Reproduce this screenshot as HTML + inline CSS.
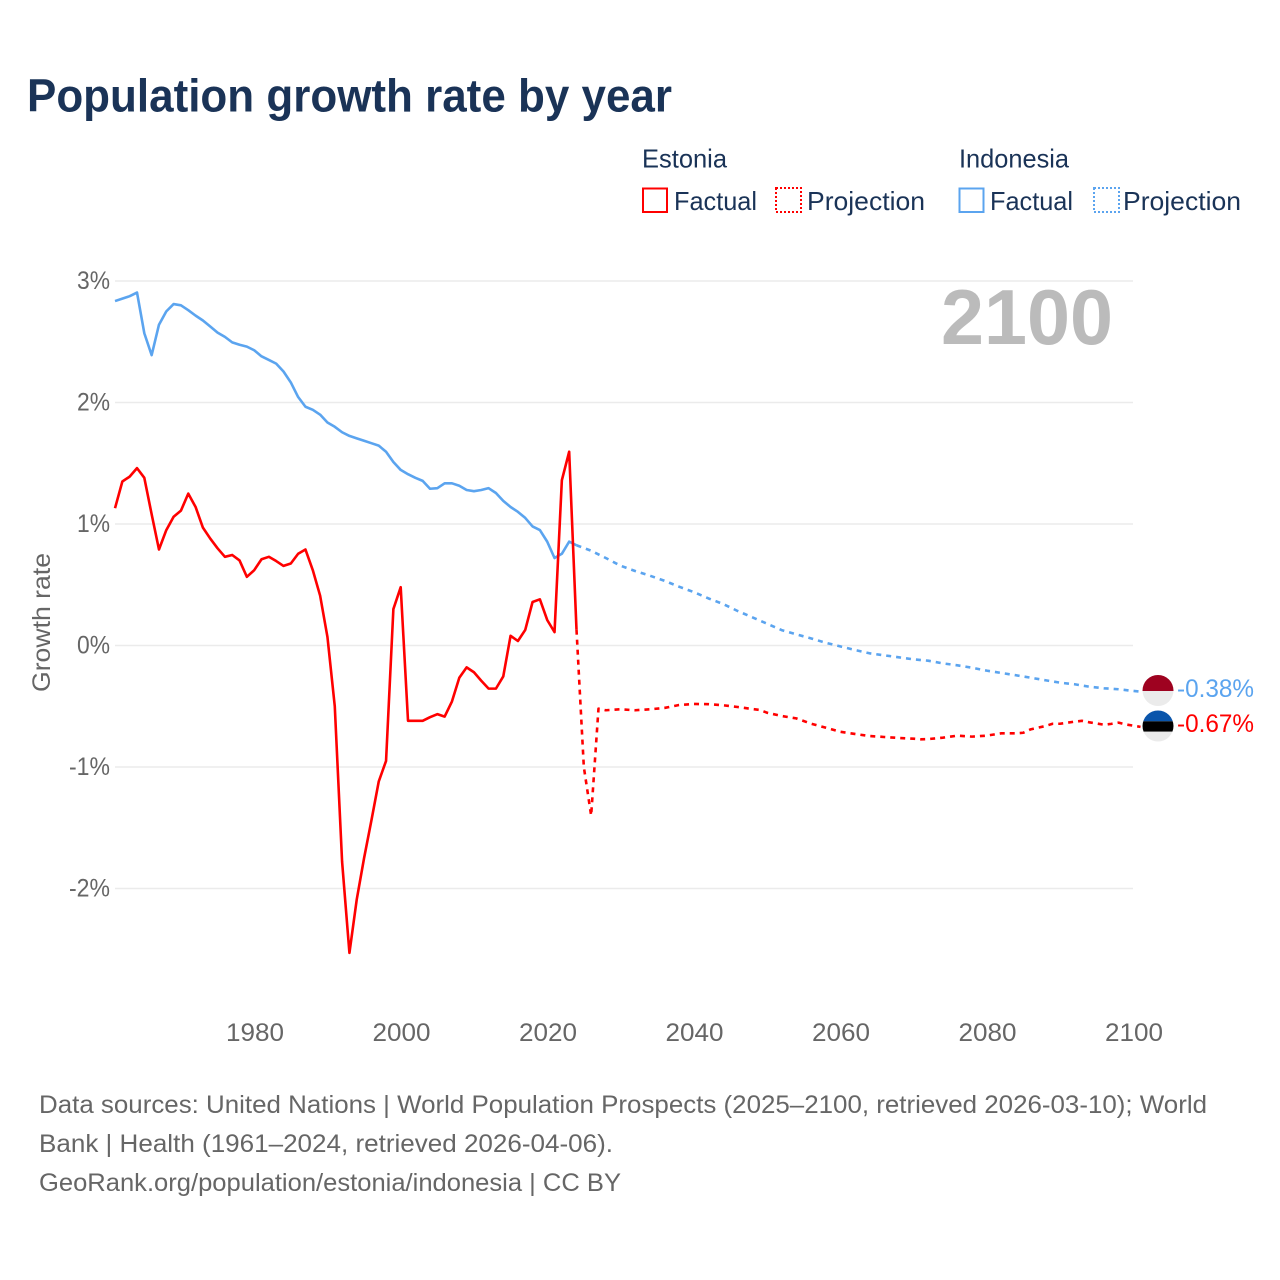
<!DOCTYPE html>
<html lang="en">
<head>
<meta charset="utf-8">
<title>Population growth rate by year</title>
<style>
html,body{margin:0;padding:0;background:#fff;width:1280px;height:1280px;overflow:hidden}
svg{display:block}
text{font-family:"Liberation Sans",sans-serif}
</style>
</head>
<body>
<svg id="chart" xmlns="http://www.w3.org/2000/svg" width="1280" height="1280" viewBox="0 0 1280 1280">
  <rect x="0" y="0" width="1280" height="1280" fill="#ffffff"/>
  <text x="27" y="111.5" font-size="46" font-weight="700" fill="#1a3357" textLength="645" lengthAdjust="spacingAndGlyphs">Population growth rate by year</text>

  <g font-size="26" fill="#1a3357">
    <text x="642" y="167.5" textLength="85" lengthAdjust="spacingAndGlyphs">Estonia</text>
    <text x="959" y="167.5" textLength="110" lengthAdjust="spacingAndGlyphs">Indonesia</text>
    <rect x="643" y="188.5" width="24" height="23.5" fill="none" stroke="#ff0000" stroke-width="2"/>
    <text x="674" y="210" textLength="83" lengthAdjust="spacingAndGlyphs">Factual</text>
    <rect x="776" y="188" width="25" height="24" fill="none" stroke="#ff0000" stroke-width="2" stroke-dasharray="2 2"/>
    <text x="807" y="210" textLength="118" lengthAdjust="spacingAndGlyphs">Projection</text>
    <rect x="959.5" y="188.5" width="24" height="23.5" fill="none" stroke="#5ba4ef" stroke-width="2"/>
    <text x="990" y="210" textLength="83" lengthAdjust="spacingAndGlyphs">Factual</text>
    <rect x="1094" y="188" width="25" height="24" fill="none" stroke="#5ba4ef" stroke-width="2" stroke-dasharray="2 2"/>
    <text x="1123" y="210" textLength="118" lengthAdjust="spacingAndGlyphs">Projection</text>
  </g>

  <g id="grid"></g>
  <g id="y-ticks"></g>
  <g id="x-ticks"></g>
  <text transform="translate(50 692) rotate(-90)" font-size="25" fill="#666666" textLength="139" lengthAdjust="spacingAndGlyphs">Growth rate</text>
  <text x="941" y="344" font-size="78" font-weight="700" fill="#bbbbbb" textLength="172" lengthAdjust="spacingAndGlyphs">2100</text>

  <g id="series"></g>

  <defs>
    <clipPath id="clip-flag-id"><circle cx="1158" cy="690.5" r="15.5"/></clipPath>
    <clipPath id="clip-flag-ee"><circle cx="1158" cy="726" r="15.5"/></clipPath>
  </defs>
  <g clip-path="url(#clip-flag-id)">
    <rect x="1142" y="675" width="32" height="16" fill="#9e0220"/>
    <rect x="1142" y="691" width="32" height="16" fill="#ebebeb"/>
  </g>
  <g clip-path="url(#clip-flag-ee)">
    <rect x="1142" y="710" width="32" height="11.3" fill="#0a55ab"/>
    <rect x="1142" y="721.3" width="32" height="10.4" fill="#000000"/>
    <rect x="1142" y="731.7" width="32" height="11" fill="#ebebeb"/>
  </g>
  <text x="1177" y="697" font-size="25" fill="#5ba4ef" textLength="77" lengthAdjust="spacingAndGlyphs">-0.38%</text>
  <text x="1177" y="732" font-size="25" fill="#ff0000" textLength="77" lengthAdjust="spacingAndGlyphs">-0.67%</text>

  <g font-size="25" fill="#666666">
    <text x="39" y="1113" textLength="1168" lengthAdjust="spacingAndGlyphs">Data sources: United Nations | World Population Prospects (2025–2100, retrieved 2026-03-10); World</text>
    <text x="39" y="1152" textLength="574" lengthAdjust="spacingAndGlyphs">Bank | Health (1961–2024, retrieved 2026-04-06).</text>
    <text x="39" y="1191" textLength="582" lengthAdjust="spacingAndGlyphs">GeoRank.org/population/estonia/indonesia | CC BY</text>
  </g>
</svg>
<script>
const yTicks = [3, 2, 1, 0, -1, -2];
const xTicks = [1980, 2000, 2020, 2040, 2060, 2080, 2100];
const factualStartYear = 1961;
const estoniaFactual = [
  1.13,1.35,1.39,1.46,1.38,
  1.08,0.79,0.95,1.06,1.11,
  1.25,1.14,0.97,0.88,0.80,
  0.73,0.745,0.70,0.565,0.62,
  0.71,0.73,0.695,0.655,0.675,
  0.755,0.79,0.62,0.41,0.07,
  -0.50,-1.78,-2.53,-2.09,-1.75,
  -1.44,-1.12,-0.95,0.30,0.48,
  -0.62,-0.62,-0.62,-0.59,-0.565,
  -0.585,-0.46,-0.265,-0.18,-0.22,
  -0.29,-0.355,-0.355,-0.255,0.08,
  0.037,0.128,0.358,0.38,0.21,
  0.11,1.36,1.595,0.13
];
const indonesiaFactual = [
  2.835,2.855,2.875,2.905,2.57,
  2.39,2.64,2.75,2.81,2.80,
  2.76,2.715,2.675,2.625,2.575,
  2.54,2.495,2.475,2.46,2.43,
  2.38,2.35,2.32,2.255,2.165,
  2.045,1.965,1.94,1.90,1.835,
  1.80,1.755,1.725,1.705,1.685,
  1.665,1.645,1.595,1.51,1.445,
  1.41,1.38,1.355,1.29,1.295,
  1.335,1.335,1.315,1.28,1.27,
  1.28,1.295,1.255,1.19,1.14,
  1.10,1.05,0.98,0.95,0.855,
  0.72,0.755,0.855,0.825
];
const estoniaProjectionYears = [2024,2025,2026,2027,2028,2030,2032,2034,2036,2038,2040,2042,2044,2046,2048,2049,2050,2052,2054,2056,2058,2060,2062,2064,2066,2068,2070,2071,2072,2074,2076,2078,2080,2082,2084,2085,2086,2088,2089,2090,2092,2093,2094,2096,2097,2098,2099,2100,2101];
const estoniaProjection = [0.13,-1.0,-1.40,-0.52,-0.533,-0.525,-0.533,-0.525,-0.514,-0.49,-0.481,-0.483,-0.492,-0.506,-0.523,-0.53,-0.553,-0.58,-0.60,-0.643,-0.676,-0.71,-0.728,-0.745,-0.753,-0.761,-0.767,-0.772,-0.77,-0.759,-0.742,-0.75,-0.742,-0.723,-0.723,-0.718,-0.69,-0.663,-0.644,-0.644,-0.627,-0.62,-0.632,-0.652,-0.645,-0.635,-0.65,-0.66,-0.67];
const indonesiaProjectionYears = [2024,2026,2028,2030,2032,2034,2036,2038,2040,2042,2044,2046,2048,2050,2052,2054,2056,2058,2060,2062,2064,2066,2068,2070,2072,2074,2076,2078,2080,2082,2084,2086,2088,2090,2092,2094,2096,2098,2100,2101];
const indonesiaProjection = [0.825,0.78,0.72,0.657,0.613,0.575,0.533,0.484,0.44,0.388,0.342,0.284,0.232,0.18,0.127,0.092,0.059,0.023,-0.007,-0.037,-0.064,-0.081,-0.097,-0.114,-0.125,-0.147,-0.163,-0.183,-0.207,-0.226,-0.245,-0.265,-0.286,-0.306,-0.319,-0.339,-0.352,-0.36,-0.374,-0.38];

const NS = 'http://www.w3.org/2000/svg';
const tickScale = function (year) { return 401.5 + (year - 2000) * 7.325; };
const xScale = function (year) { return 400.7 + (year - 2000) * 7.325; };
const yScale = function (value) { return 645.5 - value * 121.5; };

function pointsFrom(years, values) {
  return values.map(function (v, i) {
    return xScale(years[i]).toFixed(2) + ',' + yScale(v).toFixed(2);
  }).join(' ');
}
function factualYears(values) {
  return values.map(function (_, i) { return factualStartYear + i; });
}

const gridGroup = document.getElementById('grid');
const yTickGroup = document.getElementById('y-ticks');
const xTickGroup = document.getElementById('x-ticks');
const seriesGroup = document.getElementById('series');

yTicks.forEach(function (t) {
  const line = document.createElementNS(NS, 'line');
  
  
  line.setAttribute('x1', 115);
  line.setAttribute('x2', 1133);
  line.setAttribute('y1', yScale(t));
  line.setAttribute('y2', yScale(t));
  line.setAttribute('stroke', '#ebebeb');
  line.setAttribute('stroke-width', '1.5');
  gridGroup.appendChild(line);

  const label = document.createElementNS(NS, 'text');
  
  
  const str = t + '%';
  label.setAttribute('x', 110);
  label.setAttribute('y', yScale(t) + 8);
  label.setAttribute('text-anchor', 'end');
  label.setAttribute('font-size', '25');
  label.setAttribute('fill', '#666666');
  label.setAttribute('textLength', str.length === 2 ? 33 : 41);
  label.setAttribute('lengthAdjust', 'spacingAndGlyphs');
  label.textContent = str;
  yTickGroup.appendChild(label);
});

xTicks.forEach(function (t) {
  const label = document.createElementNS(NS, 'text');
  
  
  label.setAttribute('x', tickScale(t));
  label.setAttribute('y', 1041);
  label.setAttribute('text-anchor', 'middle');
  label.setAttribute('font-size', '25');
  label.setAttribute('fill', '#666666');
  label.setAttribute('textLength', 58);
  label.setAttribute('lengthAdjust', 'spacingAndGlyphs');
  label.textContent = String(t);
  xTickGroup.appendChild(label);
});

function drawLine(name, years, values, color, dashed) {
  const line = document.createElementNS(NS, 'polyline');
  
  
  line.setAttribute('points', pointsFrom(years, values));
  line.setAttribute('fill', 'none');
  line.setAttribute('stroke', color);
  line.setAttribute('stroke-width', '2.6');
  line.setAttribute('stroke-linejoin', 'round');
  if (dashed) {
    line.setAttribute('stroke-dasharray', '5 5');
  }
  seriesGroup.appendChild(line);
}

drawLine('indonesia-factual-line', factualYears(indonesiaFactual), indonesiaFactual, '#5ba4ef', false);
drawLine('indonesia-projection-line', indonesiaProjectionYears, indonesiaProjection, '#5ba4ef', true);
drawLine('estonia-factual-line', factualYears(estoniaFactual), estoniaFactual, '#ff0000', false);
drawLine('estonia-projection-line', estoniaProjectionYears, estoniaProjection, '#ff0000', true);
</script>
</body>
</html>
